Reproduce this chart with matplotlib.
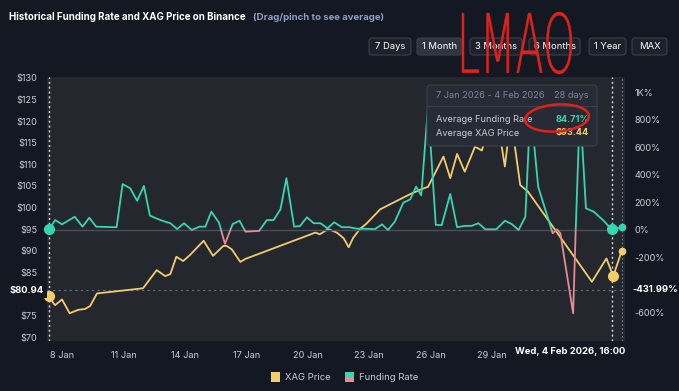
import numpy as np
import pandas as pd
import matplotlib
matplotlib.use("Agg")
import matplotlib.pyplot as plt
import matplotlib.dates as mdates
from matplotlib.patches import Rectangle, FancyBboxPatch, Ellipse, PathPatch
from matplotlib.path import Path
from matplotlib.textpath import TextPath
from matplotlib.font_manager import FontProperties
from matplotlib.transforms import Affine2D, Bbox, TransformedBbox

plt.rcParams['font.family'] = ['Inter', 'DejaVu Sans']

# ---- data ----
funding_times = ["01-07 09:00", "01-07 16:00", "01-08 00:00", "01-08 15:00", "01-09 00:00",
                 "01-09 08:00", "01-09 16:00", "01-10 16:00", "01-10 23:00", "01-11 08:00",
                 "01-11 16:00", "01-12 00:00", "01-12 07:00", "01-12 16:00", "01-13 00:00",
                 "01-13 07:00", "01-13 15:00", "01-13 23:00", "01-14 08:00", "01-14 17:00",
                 "01-15 00:00", "01-15 07:00", "01-15 16:00", "01-15 23:00", "01-16 08:00",
                 "01-16 16:00", "01-16 23:00", "01-17 15:00", "01-18 00:00", "01-18 08:00",
                 "01-18 16:00", "01-18 23:00", "01-19 08:00", "01-19 15:00", "01-19 23:00",
                 "01-20 07:00", "01-20 15:00", "01-20 23:00", "01-21 07:00", "01-21 16:00",
                 "01-22 01:00", "01-22 09:00", "01-23 07:00", "01-23 15:00", "01-23 22:00",
                 "01-24 06:00", "01-24 16:00", "01-25 00:00", "01-25 07:00", "01-25 13:00",
                 "01-25 21:00", "01-26 06:00", "01-26 13:00", "01-26 23:00", "01-27 07:00",
                 "01-27 16:00", "01-28 00:00", "01-28 08:00", "01-28 16:00", "01-29 05:00",
                 "01-29 15:00", "01-29 23:00", "01-30 07:00", "01-30 15:00", "01-30 21:00",
                 "01-31 06:00", "01-31 20:00", "01-31 23:00", "02-01 04:00", "02-01 08:00",
                 "02-01 23:00", "02-02 02:00", "02-02 07:00", "02-02 14:00", "02-02 23:00",
                 "02-03 10:00", "02-03 20:00", "02-04 08:00"]
funding_rate = [5, 72, 41, 96, 24, 89, 24, 20, 333, 302,
                212, 319, 104, 80, 62, 49, 7, 49, 0, 24,
                24, 133, 53, -101, 43, 67, -12, -7, 72, 72,
                150, 375, 24, 29, 92, 49, 49, 12, 56, 20,
                20, 10, 7, 41, 0, 60, 198, 222, 314, 251,
                900, 36, 36, 261, 20, 30, 30, 49, 5, 5,
                67, 43, 0, 96, 900, 314, 36, -24, 5, -24,
                -604, 0, 900, 157, 133, 72, 5, 20]

xag_times = ["01-07 09:00", "01-07 14:00", "01-07 16:00", "01-08 00:00", "01-08 09:00",
             "01-08 19:00", "01-09 03:00", "01-09 09:00", "01-09 17:00", "01-11 19:00",
             "01-11 23:00", "01-12 15:00", "01-13 01:00", "01-13 07:00", "01-13 14:00",
             "01-13 22:00", "01-14 06:00", "01-14 22:00", "01-15 09:00", "01-15 21:00",
             "01-16 01:00", "01-16 07:00", "01-16 17:00", "01-16 23:00", "01-20 09:00",
             "01-20 14:00", "01-21 00:00", "01-21 10:00", "01-21 18:00", "01-22 00:00",
             "01-22 05:00", "01-22 13:00", "01-22 21:00", "01-23 13:00", "01-24 04:00",
             "01-25 00:00", "01-25 14:00", "01-25 21:00", "01-26 15:00", "01-26 23:00",
             "01-27 07:00", "01-27 16:00", "01-28 04:00", "01-28 12:00", "01-28 18:00",
             "01-29 04:00", "01-29 09:00", "01-29 15:00", "01-29 19:00", "01-30 00:00",
             "01-30 09:00", "01-30 18:00", "02-02 21:00", "02-03 14:00", "02-03 22:00",
             "02-04 08:00"]
xag_price = [79.6, 77.8, 77.4, 78.7, 75.5, 76.3, 76.5, 77.2, 80.1, 81.2,
             81.3, 85.5, 84.1, 84.6, 88.6, 87.6, 89.0, 92.3, 88.8, 91.1,
             91.1, 90.3, 87.4, 88.1, 94.2, 93.8, 95.0, 94.2, 92.9, 90.8,
             92.9, 95.0, 96.3, 99.6, 101.1, 103.1, 104.3, 104.8, 111.8, 106.8,
             112.4, 108.3, 114.1, 113.2, 117.0, 121.0, 117.0, 109.5, 116.0, 118.0,
             105.2, 103.7, 82.8, 88.2, 84.1, 90.0]

price_ticks = [70, 75, 80, 85, 90, 95, 100, 105, 110, 115, 120, 125, 130]
rate_ticks = [-600, -400, -200, 0, 200, 400, 600, 800, 1000]
rate_labels = ["-600%", "", "-200%", "0%", "200%", "400%", "600%", "800%", "1K%"]
date_ticks = ["01-08", "01-11", "01-14", "01-17", "01-20", "01-23", "01-26", "01-29"]
date_labels = ["8 Jan", "11 Jan", "14 Jan", "17 Jan", "20 Jan", "23 Jan", "26 Jan", "29 Jan"]
buttons = ["7 Days", "1 Month", "3 Months", "6 Months", "1 Year", "MAX"]

avg_rate = "84.71%"
avg_price = "$93.44"
sel_price = 80.94
sel_rate = -431.99

# ---- colours ----
BG = "#141823"
PLOT_BG = "#25272f"
TEAL = "#35d6b0"
PINK = "#e88b93"
GOLD = "#f3cd6a"
TXT = "#c9ccd4"
RED = "#e0221c"

W, H = 679, 391
fig = plt.figure(figsize=(W / 100, H / 100), dpi=100, facecolor=BG)

ft = pd.to_datetime(["2026-" + t for t in funding_times])
xt = pd.to_datetime(["2026-" + t for t in xag_times])

ax = fig.add_axes([47 / W, 1 - 341 / H, 578 / W, 264 / H])
ax.set_facecolor(PLOT_BG)
ax2 = ax.twinx()
ax2.patch.set_visible(False)

ax.set_xlim(pd.Timestamp("2026-01-07 06:26"), pd.Timestamp("2026-02-04 11:46"))
ax.set_ylim(69.08, 130.23)
ax2.set_ylim(-804.75, 1109)

for a in (ax, ax2):
    for s in a.spines.values():
        s.set_visible(False)
    a.tick_params(length=0, colors=TXT, labelsize=6.6)

# the $80 label sits under the selected-price box
ax.set_yticks(price_ticks)
ax.set_yticklabels(["" if v == 80 else "$%d" % v for v in price_ticks])
ax2.set_yticks(rate_ticks)
ax2.set_yticklabels(rate_labels)
ax.tick_params(axis='y', pad=7)
ax2.tick_params(axis='y', pad=7)
ax.set_xticks(pd.to_datetime(["2026-" + d for d in date_ticks]))
ax.set_xticklabels(date_labels)
ax.tick_params(axis='x', pad=7)

# overlay axes in pixel coordinates for everything drawn on top
ov = fig.add_axes([0, 0, 1, 1], zorder=10)
ov.set_xlim(0, W)
ov.set_ylim(H, 0)
ov.axis("off")
ov.patch.set_visible(False)
px = ov.transData

# tooltip area: cut it out of the data lines so they stay hidden behind it
tip_x, tip_y, tip_w, tip_h = 427, 85, 170, 61
hole = Path([(0, 0), (W, 0), (W, H), (0, H), (0, 0),
             (tip_x, tip_y), (tip_x, tip_y + tip_h), (tip_x + tip_w, tip_y + tip_h),
             (tip_x + tip_w, tip_y), (tip_x, tip_y)],
            [Path.MOVETO, Path.LINETO, Path.LINETO, Path.LINETO, Path.CLOSEPOLY,
             Path.MOVETO, Path.LINETO, Path.LINETO, Path.LINETO, Path.CLOSEPOLY])

# zero line and selection guide lines
ax2.axhline(0, color="#4b4f5b", lw=1, zorder=1)
ax.axhline(sel_price, color="#6b6f7a", lw=0.8, ls=(0, (2, 3)), zorder=1)
for t in [ft[0], ft[-2]]:
    ax.axvline(t, color="#d8dbe2", lw=1, ls=(0, (1.5, 2)), zorder=5)
ax.axvline(ft[-1], color="#7a7e88", lw=0.8, ls=(0, (1.5, 2)), zorder=5)

# funding rate: teal above zero, pink below
xn = mdates.date2num(ft)
big = 1e6
for col, y_lo, y_hi in [(TEAL, 0, big), (PINK, -big, 0)]:
    ln, = ax2.plot(ft, funding_rate, color=col, lw=1.3, zorder=3)
    ln.set_clip_box(TransformedBbox(Bbox([[xn[0] - 10, y_lo], [xn[-1] + 10, y_hi]]),
                                    ax2.transData))
    ln.set_clip_path(hole, px)

gl, = ax.plot(xt, xag_price, color=GOLD, lw=1.3, zorder=3)
gl.set_clip_path(hole, px)

# selection markers
ax2.plot([ft[0], ft[-2]], [funding_rate[0], funding_rate[-2]], 'o', color=TEAL, ms=7, zorder=6, clip_on=False)
ax2.plot([ft[-1]], [funding_rate[-1]], 'o', color=TEAL, ms=4.5, zorder=6, clip_on=False)
ax.plot([xt[0], xt[-2]], [xag_price[0], xag_price[-2]], 'o', color=GOLD, ms=7, zorder=6, clip_on=False)
ax.plot([xt[-1]], [xag_price[-1]], 'o', color=GOLD, ms=4.5, zorder=6, clip_on=False)

# selection value labels on the axes
ov.text(44, 290, "$%.2f" % sel_price, ha="right", va="center", fontsize=6.8,
        fontweight="bold", color="white",
        bbox=dict(boxstyle="square,pad=0.35", fc=BG, ec="none"))
ov.text(632, 290, "%.2f%%" % sel_rate, ha="left", va="center", fontsize=6.8,
        fontweight="bold", color="white",
        bbox=dict(boxstyle="square,pad=0.15", fc=BG, ec="none"))
ov.text(570, 352, "Wed, 4 Feb 2026, 16:00", ha="center", va="center", fontsize=6.8,
        fontweight="bold", color="white",
        bbox=dict(boxstyle="square,pad=0.3", fc=BG, ec="none"))

# title
ov.text(9, 17, "Historical Funding Rate and XAG Price on Binance", ha="left",
        va="center", fontsize=7.0, fontweight="bold", color="white")
ov.text(253, 17, "(Drag/pinch to see average)", ha="left", va="center",
        fontsize=6.9, fontweight="bold", color="#8e9dc4")

# range buttons
btn_x = [369, 417, 470, 529, 589, 632]
btn_w = [42, 45, 52, 51, 37, 35]
for lab, bx, bw in zip(buttons, btn_x, btn_w):
    fc = "#2f3441" if lab == "1 Month" else "#1d212c"
    ov.add_patch(FancyBboxPatch((bx, 38), bw, 17, boxstyle="round,pad=0,rounding_size=3",
                                fc=fc, ec="#3b404c", lw=0.8))
    ov.text(bx + bw / 2, 46.5, lab, ha="center", va="center", fontsize=6.8, color="white")

# tooltip with averages
ov.add_patch(FancyBboxPatch((tip_x, tip_y), tip_w, tip_h, boxstyle="round,pad=0,rounding_size=4",
                            fc="#272b35", ec="#3a3f4b", lw=0.8, zorder=10))
ov.plot([tip_x, tip_x + tip_w], [106, 106], color="#3a3f4b", lw=0.8, zorder=11)
tip_texts = [
    (436, 96, "7 Jan 2026 - 4 Feb 2026", "left", "#7c8495", "normal"),
    (589, 96, "28 days", "right", "#7c8495", "normal"),
    (436, 119, "Average Funding Rate", "left", TXT, "normal"),
    (589, 119, avg_rate, "right", TEAL, "bold"),
    (436, 133, "Average XAG Price", "left", TXT, "normal"),
    (589, 133, avg_price, "right", GOLD, "bold"),
]
for tx, ty, s, ha, c, w in tip_texts:
    ov.text(tx, ty, s, ha=ha, va="center", fontsize=6.6, color=c, fontweight=w, zorder=11)

# red scribbles on top of the screenshot
ov.add_patch(Ellipse((557, 118), 64, 27, fill=False, ec=RED, lw=1.8, angle=-4, zorder=12))
tp = TextPath((0, 0), "LMAO", size=10, prop=FontProperties(family="DejaVu Sans", weight="ultralight"))
bb = tp.get_extents()
tr = Affine2D().translate(-bb.x0, -bb.y0).scale(110 / bb.width, -62 / bb.height).translate(462, 74)
ov.add_patch(PathPatch(tr.transform_path(tp), fc=RED, ec=RED, lw=0.3, zorder=12))

# legend
ov.add_patch(Rectangle((271, 372), 9, 10, fc=GOLD))
ov.text(285, 377, "XAG Price", fontsize=6.8, color=TXT, ha="left", va="center")
ov.add_patch(Rectangle((345, 372), 9, 5, fc=TEAL))
ov.add_patch(Rectangle((345, 377), 9, 5, fc=PINK))
ov.text(359, 377, "Funding Rate", fontsize=6.8, color=TXT, ha="left", va="center")

fig.savefig("out.png", dpi=100, facecolor=BG)
